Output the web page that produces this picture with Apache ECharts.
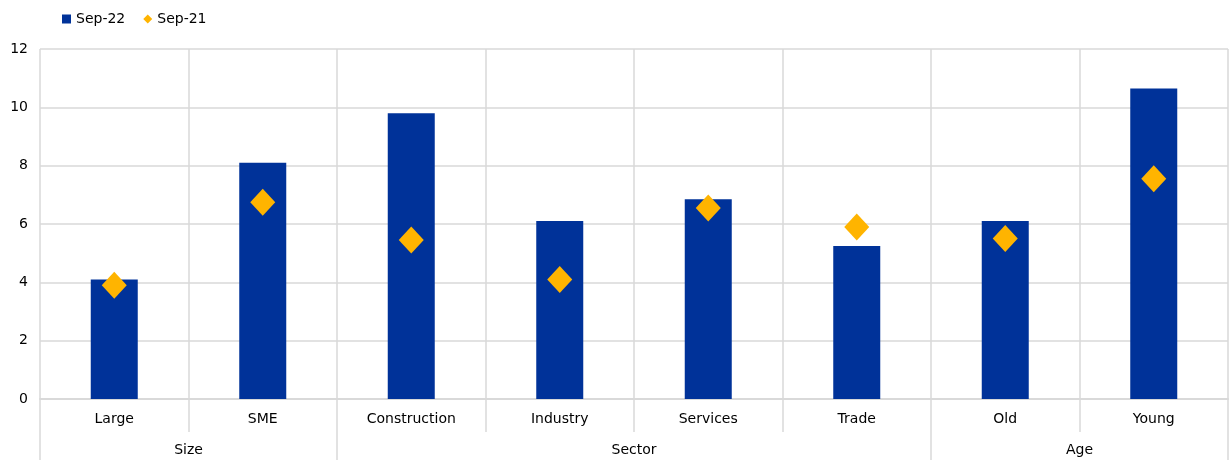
<!DOCTYPE html>
<html>
<head>
<meta charset="utf-8">
<script src="https://cdn.jsdelivr.net/npm/echarts@6/dist/echarts.min.js"></script>
<style>
  html, body { margin: 0; padding: 0; background: #fff; }
  #chart { width: 1229px; height: 460px; }
</style>
</head>
<body>
<div id="chart"></div>
<script>
// 数据
var categories = ['Large', 'SME', 'Construction', 'Industry', 'Services', 'Trade', 'Old', 'Young'];
var sep22 = [4.1, 8.1, 9.8, 6.1, 6.85, 5.25, 6.1, 10.65];
var sep21 = [3.9, 6.75, 5.45, 4.1, 6.55, 5.9, 5.5, 7.55];
var groupNames = ['Size', 'Sector', 'Age'];
var groupCentres = [1, 4, 7];
var groupEdges = [0, 2, 6, 8];
var yTicks = [0, 2, 4, 6, 8, 10, 12];

var chart = echarts.init(document.getElementById('chart'));
var gridColor = '#d9d9d9';
var font = 'DejaVu Sans, sans-serif';

var option = {
    animation: false,
    textStyle: { fontFamily: font },
    legend: {
        left: 57,
        top: 7,
        itemGap: 18,
        itemWidth: 9,
        itemHeight: 9,
        textStyle: { fontSize: 14, color: '#000', fontFamily: font },
        data: [
            { name: 'Sep-22', icon: 'rect' },
            { name: 'Sep-21', icon: 'diamond' }
        ]
    },
    grid: { left: 40, right: 1, top: 49, bottom: 61, containLabel: false },
    xAxis: [{
        type: 'category',
        data: categories,
        axisLine: { show: true, lineStyle: { color: gridColor, width: 2 } },
        axisTick: { show: true, interval: 0, length: 33, lineStyle: { color: gridColor, width: 1.5 } },
        axisLabel: { interval: 0, margin: 13, fontSize: 14, color: '#000', fontFamily: font },
        splitLine: { show: true, interval: 0, lineStyle: { color: gridColor, width: 1.5 } }
    }, {
        type: 'value',
        position: 'bottom',
        min: 0,
        max: 8,
        interval: 1,
        axisLine: { show: false },
        splitLine: { show: false },
        axisTick: {
            show: true,
            customValues: groupEdges,
            length: 61,
            lineStyle: { color: gridColor, width: 1.5 }
        },
        axisLabel: {
            customValues: groupCentres,
            margin: 44,
            fontSize: 14,
            color: '#000',
            fontFamily: font,
            formatter: function (v) {
                var i = groupCentres.indexOf(Math.round(v));
                return i >= 0 ? groupNames[i] : '';
            }
        }
    }],
    yAxis: {
        type: 'value',
        min: yTicks[0],
        max: yTicks[yTicks.length - 1],
        interval: 2,
        axisLine: { show: false },
        axisTick: { show: false },
        axisLabel: { margin: 12, fontSize: 14, color: '#000', fontFamily: font },
        splitLine: { lineStyle: { color: gridColor, width: 1.5 } }
    },
    series: [{
        name: 'Sep-22',
        type: 'bar',
        xAxisIndex: 0,
        barWidth: 47,
        itemStyle: { color: '#003299' },
        data: sep22
    }, {
        name: 'Sep-21',
        type: 'scatter',
        xAxisIndex: 0,
        symbol: 'diamond',
        symbolSize: [25, 27],
        itemStyle: { color: '#ffb400', opacity: 1 },
        z: 5,
        data: sep21
    }]
};

chart.setOption(option);
</script>
</body>
</html>
